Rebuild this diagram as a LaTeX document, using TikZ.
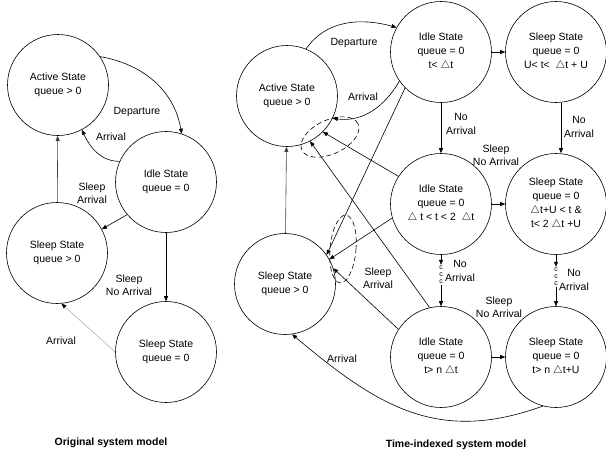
\documentclass[tikz,border=0pt]{standalone}
\usepackage{fontspec}
\setmainfont{Liberation Sans}
\usetikzlibrary{arrows.meta}

\newcommand{\dt}{$\bigtriangleup$}

\begin{document}
\begin{tikzpicture}[x=1pt,y=-1pt,node distance={115pt},line width=0.6pt,
    main/.style = {draw, circle, minimum size=101pt, inner sep=0pt, align=center, font=\fontsize{10.5}{14}\selectfont},
    lbl/.style = {align=center, inner sep=0pt, font=\fontsize{10.5}{13.5}\selectfont},
    dots/.style = {align=center, inner sep=1pt, font=\fontsize{7}{7}\selectfont},
    caption/.style = {font=\fontsize{10.5}{12}\selectfont\bfseries},
    >={Triangle[length=5pt,width=4pt]}]
\useasboundingbox (0,0) rectangle (606,458);

% original system model
\node[main] (ActiveA) at (58,85) {Active State\\queue > 0};
\node[main] (IdleA) at (166,182) {Idle State\\queue = 0};
\node[main] (SleepQA) at (57,253) {Sleep State\\queue > 0};
\node[main] (SleepZA) [below of = IdleA, node distance=170pt] {Sleep State\\queue = 0};
\draw[->] (ActiveA.34) to [out=-10, in=100] (IdleA.72);
\draw[->] (IdleA.156) to [out=180, in=-65] (ActiveA.-62);
\draw[->] (IdleA.220) -- (SleepQA.28);
\draw[->, black!75] (SleepQA) -- (ActiveA);
\draw[->] (IdleA) -- (SleepZA);
\draw[-{Triangle[length=5pt,width=4pt,color=black]}, black!30] (SleepZA.west) -- (SleepQA.-85);
\node[lbl] (DepA) at (137,112) {Departure};
\node[lbl] (ArrA) at (111,137) {Arrival};
\node[lbl] (SlArrA) at (92,193) {Sleep\\Arrival};
\node[lbl] (SlNoA) at (129,285) {Sleep\\No Arrival};
\node[lbl] (ArrZA) at (61,341) {Arrival};
\node[caption] (CapA) at (111,443) {Original system model};

% time-indexed system model
\node[main] (ActiveB) at (287,96) {Active State\\queue > 0};
\node[main] (SleepQB) at (285,284) {Sleep State\\queue > 0};
\node[main] (Idle1) at (441,52) {Idle State\\queue = 0\\t< \dt t};
\node[main] (Sleep1) [right of = Idle1] {Sleep State\\queue = 0\\U< t<\ \ \dt t + U};
\node[main] (Idle2) [below of = Idle1, node distance=152pt] {Idle State\\queue = 0\\\dt\ t < t < 2\ \ \dt t};
\node[main] (Sleep2) [right of = Idle2] {Sleep State\\queue = 0\\\dt t+U < t \&\\t< 2 \dt t +U};
\node[main] (Idle3) [below of = Idle2, node distance=153pt] {Idle State\\queue = 0\\t> n \dt t};
\node[main] (Sleep3) [right of = Idle3] {Sleep State\\queue = 0\\t> n \dt t+U};
\node[dots] (DotsI) at (441,275) {c\\c\\c};
\node[dots] (DotsS) at (556,277) {c\\c\\c};

\draw[->] (ActiveB.68) to [out=55, in=165] (Idle1.151);
\draw[->] (Idle1.215) to [out=240, in=-8] (ActiveB.-26);
\draw[->] (Idle2.147) -- (ActiveB.-45);
\draw[->] (Idle3.103) -- (ActiveB.-63);
\draw[->] (Idle1.225) -- (SleepQB.35);
\draw[->] (Idle2.196) -- (SleepQB.29);
\draw[->] (Idle3.147) -- (SleepQB.18);
\draw[->, black!75] (SleepQB) -- (ActiveB);
\draw[->] (Idle1) -- (Sleep1);
\draw[->] (Idle2) -- (Sleep2);
\draw[->] (Idle3) -- (Sleep3);
\draw[->] (Idle1) -- (Idle2);
\draw[->] ([xshift=5pt]Sleep1.south) -- ([xshift=5pt]Sleep2.north);
\draw[->] (Idle2) -- (DotsI);
\draw[->] (DotsI) -- (Idle3);
\draw[->] (Sleep2) -- (DotsS);
\draw[->] (DotsS) -- (Sleep3);
\draw[->] (Sleep3.-105) to [out=200, in=-40, looseness=1.1] (SleepQB.-82);

\draw[dashed, dash pattern=on 5pt off 3pt, rotate around={25:(330,137)}] (330,137) ellipse [x radius=31pt, y radius=17pt];
\draw[dashed, dash pattern=on 5pt off 3pt, rotate around={-5:(343,249)}] (343,249) ellipse [x radius=13pt, y radius=34pt];

\node[lbl] (DepB) at (354,43) {Departure};
\node[lbl] (ArrB) at (363,97) {Arrival};
\node[lbl] (NoArr1) at (461,124) {No\\Arrival};
\node[lbl] (NoArr2) at (579,127) {No\\Arrival};
\node[lbl] (SlNo1) at (496,155) {Sleep\\No Arrival};
\node[lbl] (NoArr3) at (460,271) {No\\Arrival};
\node[lbl] (NoArr4) at (574,280) {No\\Arrival};
\node[lbl] (SlArrB) at (378,278) {Sleep\\Arrival};
\node[lbl] (SlNo2) at (499,307) {Sleep\\No Arrival};
\node[lbl] (ArrBot) at (342,359) {Arrival};
\node[caption] (CapB) at (456,445) {Time-indexed system model};
\end{tikzpicture}
\end{document}
